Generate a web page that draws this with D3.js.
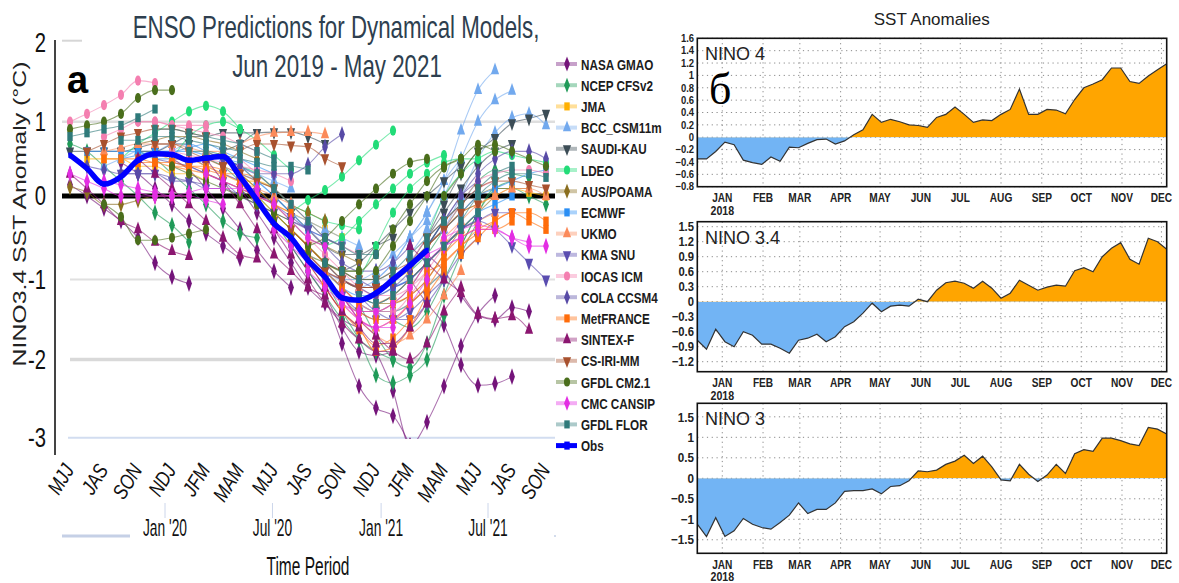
<!DOCTYPE html>
<html><head><meta charset="utf-8">
<script src="https://cdn.jsdelivr.net/npm/d3@7"></script>
<style>
body{margin:0;background:#fff;}
svg{display:block;font-family:"Liberation Sans",Arial,sans-serif;}
</style></head><body>
<svg id="chart" width="1179" height="583"></svg>
<script>
// ===================== Panel a: ENSO plume =====================
// Running 3-month seasons, MJJ 2019 ... SON 2021
const seasons = ["MJJ","JJA","JAS","ASO","SON","OND","NDJ","DJF","JFM","FMA","MAM","AMJ",
                 "MJJ","JJA","JAS","ASO","SON","OND","NDJ","DJF","JFM","FMA","MAM","AMJ",
                 "MJJ","JJA","JAS","ASO","SON"];
const yTickValues = [2, 1, 0, -1, -2, -3];

// Observed NINO3.4 (°C), one value per season from MJJ 2019
const obsValues = [0.55,0.37,0.16,0.26,0.48,0.57,0.56,0.48,0.51,0.53,0.26,-0.05,
                   -0.33,-0.5,-0.77,-0.97,-1.23,-1.26,-1.17,-1.0,-0.83,-0.65];

const modelNames = ["NASA GMAO","NCEP CFSv2","JMA","BCC_CSM11m","SAUDI-KAU","LDEO","AUS/POAMA",
  "ECMWF","UKMO","KMA SNU","IOCAS ICM","COLA CCSM4","MetFRANCE","SINTEX-F","CS-IRI-MM",
  "GFDL CM2.1","CMC CANSIP","GFDL FLOR"];

// Each forecast run: [first season index, value, value, ...]
const runsNasaGmao = [
  [0, 0.15,0.0,-0.15,-0.3,-0.5,-0.8,-0.97,-1.05],
  [3, 0.45,0.3,0.1,-0.1,-0.3,-0.45,-0.6,-0.75],
  [6, 0.5,0.35,0.1,-0.15,-0.4,-0.65,-0.9,-1.1],
  [10, 0.1,-0.2,-0.5,-0.8,-1.1,-1.3,-1.5,-1.6],
  [13, -0.6,-0.9,-1.2,-1.6,-1.9,-1.95,-1.9],
  [15, -1.2,-1.8,-2.34,-2.62,-2.72,-3.1],
  [18, -1.9,-2.4,-3.1,-2.8,-2.34,-1.83,-1.43,-1.2],
  [20, -1.0,-1.3,-1.57,-2.07,-2.33,-2.31,-2.22],
  [21, -0.7,-0.9,-1.2,-1.45,-1.5,-1.35,-1.4]];
const runsNcepCfsv2 = [
  [0, 0.7,0.6,0.4,0.2,0.0,-0.2,-0.35,-0.55],
  [4, 0.6,0.5,0.3,0.1,-0.1,-0.3,-0.45,-0.5],
  [8, 0.5,0.4,0.2,0.0,-0.2,-0.4,-0.6,-0.8],
  [12, -0.3,-0.6,-0.9,-1.2,-1.5,-1.75,-1.9,-2.0],
  [15, -1.0,-1.4,-1.75,-2.2,-2.3,-2.2,-2.0,-1.45],
  [17, -1.3,-1.7,-2.0,-2.1,-1.8,-1.2,-0.7,-0.3],
  [19, -1.5,-1.6,-1.4,-1.0,-0.6,-0.2,0.1,0.2],
  [20, -0.9,-0.7,-0.4,-0.1,0.2,0.35,0.3,0.25],
  [23, -0.6,-0.2,0.1,0.1,0.0,-0.1]];
const runsJma = [
  [1, 0.5,0.5,0.5,0.4,0.4,0.3,0.3,0.2],
  [5, 0.6,0.5,0.5,0.4,0.3,0.2,0.2,0.1],
  [9, 0.5,0.3,0.1,-0.1,-0.2,-0.3,-0.4,-0.5],
  [11, 0.0,-0.2,-0.4,-0.6,-0.8,-0.9,-1.0,-1.0],
  [13, -0.4,-0.6,-0.8,-1.0,-1.1,-1.1,-1.0,-0.9],
  [15, -0.9,-1.1,-1.3,-1.4,-1.4,-1.3,-1.1,-0.9],
  [17, -1.2,-1.3,-1.2,-1.0,-0.8,-0.6,-0.4,-0.2],
  [21, -0.6,-0.4,-0.2,-0.1,0.0,0.1,0.05,0.0]];
const runsBcc = [
  [2, 0.4,0.5,0.6,0.6,0.7,0.7,0.6,0.5],
  [6, 0.6,0.7,0.6,0.5,0.4,0.3,0.2,0.1],
  [10, 0.3,0.2,0.0,-0.2,-0.3,-0.4,-0.5,-0.6],
  [14, -0.7,-0.9,-1.0,-1.0,-0.9,-0.7,-0.5,-0.3],
  [16, -1.0,-1.1,-1.0,-0.8,-0.5,-0.2,0.2,0.5],
  [18, -1.0,-0.8,-0.5,-0.2,0.2,0.88,1.4,1.65],
  [20, -0.7,-0.4,0.0,0.5,1.0,1.27,1.39],
  [22, -0.4,0.0,0.5,0.85,1.05,1.1,0.95]];
const runsSaudiKau = [
  [0, 0.6,0.6,0.6,0.6,0.65,0.7,0.7,0.7],
  [4, 0.6,0.6,0.7,0.8,0.8,0.85,0.85,0.85],
  [8, 0.5,0.6,0.7,0.85,0.86,0.86,0.8,0.7],
  [12, 0.0,-0.2,-0.4,-0.6,-0.7,-0.7,-0.6,-0.5],
  [16, -0.9,-0.8,-0.6,-0.4,-0.2,0.0,0.2,0.4],
  [19, -1.0,-0.8,-0.5,-0.2,0.1,0.4,0.6,0.7],
  [21, -0.5,-0.1,0.3,0.6,0.78,0.98,1.04,1.1]];
const runsLdeo = [
  [3, 0.5,0.7,0.85,1.0,1.13,1.2,1.13,0.9],
  [6, 0.5,0.8,0.95,1.0,0.9,0.75,0.55,0.35],
  [10, 0.4,0.3,0.1,-0.1,-0.2,-0.3,-0.35,-0.4],
  [13, -0.2,-0.05,0.08,0.26,0.48,0.69,0.88],
  [15, -0.6,-0.5,-0.3,-0.1,0.1,0.3,0.45,0.55],
  [17, -1.0,-0.6,-0.2,0.1,0.3,0.45,0.5,0.5],
  [21, -0.5,0.0,0.3,0.5,0.6,0.55,0.5,0.45]];
const runsAusPoama = [
  [0, 0.12,0.05,-0.1,-0.1,-0.05,0.0,0.0,0.0],
  [4, 0.7,0.75,0.8,0.8,0.75,0.7,0.6,0.5],
  [8, 0.6,0.5,0.4,0.2,0.1,-0.1,-0.2,-0.3],
  [10, 0.3,0.1,-0.1,-0.3,-0.5,-0.6,-0.7,-0.8],
  [12, -0.2,-0.4,-0.6,-0.8,-1.0,-1.1,-1.1,-1.0],
  [16, -1.2,-1.4,-1.4,-1.3,-1.1,-0.8,-0.6,-0.4],
  [18, -1.3,-1.3,-1.2,-1.0,-0.7,-0.4,-0.2,0.0],
  [20, -0.9,-0.6,-0.4,-0.2,0.0,0.1,0.1,0.1]];
const runsEcmwf = [
  [1, 0.6,0.6,0.6,0.6,0.5,0.5,0.5,0.4],
  [3, 0.5,0.55,0.6,0.6,0.6,0.55,0.5,0.45],
  [5, 0.6,0.6,0.65,0.7,0.6,0.5,0.4,0.3],
  [9, 0.5,0.4,0.2,0.0,-0.2,-0.4,-0.5,-0.6],
  [13, -0.5,-0.7,-0.9,-1.1,-1.2,-1.2,-1.1,-1.0],
  [15, -0.9,-1.1,-1.3,-1.4,-1.4,-1.3,-1.1,-0.9],
  [17, -1.2,-1.3,-1.2,-1.0,-0.8,-0.6,-0.4,-0.3],
  [19, -1.1,-1.0,-0.8,-0.6,-0.4,-0.2,-0.1,0.0],
  [21, -0.6,-0.4,-0.2,0.0,0.1,0.2,0.3,0.35]];
const runsUkmo = [
  [2, 0.6,0.65,0.7,0.7,0.7,0.65,0.6,0.6],
  [6, 0.5,0.5,0.4,0.3,0.2,0.1,0.0,-0.1],
  [10, 0.7,0.8,0.85,0.86,0.86,0.83],
  [10, 0.3,0.0,-0.3,-0.5,-0.7,-0.9,-1.0,-1.1],
  [14, -0.8,-1.0,-1.3,-1.5,-1.6,-1.5,-1.3,-1.1],
  [16, -1.2,-1.5,-1.7,-1.8,-1.7,-1.5,-1.2,-0.9],
  [18, -1.3,-1.2,-1.0,-0.8,-0.6,-0.4,-0.3,-0.2],
  [22, -0.5,-0.3,-0.1,0.0,0.1,0.1,0.0]];
const runsKmaSnu = [
  [3, 0.3,0.3,0.3,0.2,0.2,0.1,0.1,0.0],
  [7, 0.4,0.3,0.2,0.0,-0.1,-0.2,-0.3,-0.4],
  [9, 0.3,0.2,0.05,-0.1,-0.25,-0.4,-0.5,-0.6],
  [11, -0.1,-0.3,-0.5,-0.7,-0.9,-1.0,-1.1,-1.1],
  [15, -1.0,-1.2,-1.4,-1.5,-1.5,-1.4,-1.2,-1.0],
  [17, -1.2,-1.4,-1.5,-1.5,-1.3,-1.0,-0.7,-0.5],
  [19, -1.1,-1.0,-0.8,-0.6,-0.4,-0.3,-0.2,-0.2],
  [23, -0.4,-0.3,-0.4,-0.6,-0.8,-1.0]];
const runsIocasIcm = [
  [0, 1.0,1.1,1.21,1.34,1.52,1.49],
  [2, 0.8,0.9,1.0,1.0,0.95,0.95,0.95],
  [4, 1.0,1.0,0.95,0.9,0.85,0.8,0.7,0.6],
  [6, 0.6,0.55,0.5,0.45,0.4,0.35,0.3,0.2],
  [10, 0.5,0.3,0.1,-0.1,-0.3,-0.5,-0.6,-0.7],
  [14, -0.5,-0.7,-0.9,-1.1,-1.2,-1.2,-1.1,-0.9],
  [16, -1.1,-1.3,-1.4,-1.4,-1.2,-0.9,-0.6,-0.3],
  [18, -1.2,-1.0,-0.8,-0.5,-0.3,-0.1,0.1,0.2],
  [22, -0.4,-0.1,0.2,0.3,0.35,0.35,0.3]];
const runsColaCcsm4 = [
  [1, 0.4,0.35,0.3,0.3,0.3,0.25,0.2,0.15],
  [5, 0.5,0.45,0.4,0.3,0.2,0.1,0.0,-0.1],
  [9, 0.5,0.4,0.3,0.3,0.3,0.42,0.66,0.83],
  [13, -0.3,-0.4,-0.6,-0.8,-0.9,-0.9,-0.8,-0.6],
  [15, -0.8,-1.0,-1.1,-1.2,-1.1,-0.9,-0.6,-0.3],
  [17, -1.0,-1.1,-1.0,-0.8,-0.6,-0.3,0.0,0.2],
  [21, -0.6,-0.3,0.0,0.3,0.5,0.6,0.6,0.5]];
const runsMetFrance = [
  [2, 0.5,0.5,0.5,0.45,0.45,0.4,0.4,0.35],
  [4, 0.45,0.45,0.4,0.4,0.35,0.3,0.3,0.25],
  [6, 0.4,0.35,0.3,0.2,0.1,0.0,-0.1,-0.2],
  [10, 0.2,-0.1,-0.3,-0.5,-0.7,-0.9,-1.1,-1.3],
  [13, -0.5,-0.8,-1.1,-1.4,-1.63,-1.83,-1.73,-1.5],
  [15, -1.1,-1.4,-1.6,-1.9,-1.85,-1.6,-1.2,-0.9],
  [17, -1.4,-1.5,-1.5,-1.3,-1.1,-0.8,-0.6,-0.45],
  [19, -1.3,-1.2,-1.0,-0.7,-0.5,-0.4,-0.4,-0.3],
  [21, -0.9,-0.8,-0.6,-0.4,-0.3,-0.2,-0.3,-0.4],
  [23, -0.7,-0.5,-0.3,-0.2,-0.2,-0.3]];
const runsSintexF = [
  [0, 0.3,0.1,-0.1,-0.3,-0.4,-0.55,-0.66,-0.72],
  [4, 0.5,0.3,0.1,-0.1,-0.3,-0.5,-0.7,-0.75],
  [8, 0.5,0.2,-0.1,-0.4,-0.7,-0.9,-1.1,-1.2],
  [12, -0.4,-0.7,-1.0,-1.3,-1.55,-1.75,-1.9,-1.9],
  [14, -0.8,-1.1,-1.4,-1.6,-1.8,-1.8,-1.6,-1.3],
  [16, -1.2,-1.5,-1.7,-1.9,-2.0,-1.8,-1.4,-1.1],
  [20, -0.6,-0.8,-1.0,-1.17,-1.44,-1.49,-1.46,-1.63]];
const runsCsIriMm = [
  [1, 0.6,0.7,0.8,0.85,0.9,0.9,0.85,0.8],
  [5, 0.7,0.7,0.6,0.5,0.4,0.3,0.2,0.1],
  [9, 0.4,0.6,0.7,0.7,0.68,0.66,0.51,0.4],
  [13, -0.4,-0.6,-0.8,-0.9,-1.0,-1.0,-0.9,-0.8],
  [15, -0.9,-1.0,-1.1,-1.1,-1.0,-0.8,-0.6,-0.4],
  [17, -1.1,-1.1,-1.0,-0.8,-0.6,-0.4,-0.2,-0.1],
  [21, -0.5,-0.3,-0.1,0.1,0.2,0.2,0.15,0.1]];
const runsGfdlCm21 = [
  [0, 0.9,0.95,1.0,1.1,1.3,1.4,1.4],
  [2, -0.1,-0.25,-0.53,-0.53,-0.5,-0.45,-0.4],
  [6, 0.4,0.3,0.2,0.1,0.0,-0.1,-0.2,-0.3],
  [10, 0.1,-0.1,-0.3,-0.5,-0.7,-0.8,-0.9,-0.9],
  [14, -0.6,-0.5,-0.3,-0.1,0.1,0.3,0.45,0.5],
  [16, -0.9,-0.9,-0.7,-0.4,-0.1,0.2,0.4,0.5],
  [18, -0.9,-0.6,-0.3,0.0,0.38,0.5,0.69,0.6],
  [22, 0.0,0.3,0.6,0.69,0.6,0.5,0.4]];
const runsCmcCansip = [
  [0, 0.3,0.2,0.1,0.0,0.0,0.0,0.0,0.0],
  [2, 0.2,0.15,0.1,0.05,0.0,0.0,-0.05,-0.1],
  [4, 0.05,0.0,0.0,0.05,0.1,0.1,0.1,0.1],
  [8, 0.3,0.2,0.1,0.0,-0.1,-0.3,-0.5,-0.6],
  [12, -0.4,-0.6,-0.8,-1.0,-1.2,-1.5,-1.6,-1.6],
  [14, -0.9,-1.1,-1.3,-1.5,-1.6,-1.5,-1.3,-1.0],
  [16, -1.3,-1.4,-1.4,-1.3,-1.1,-0.8,-0.6,-0.5],
  [20, -0.8,-0.7,-0.6,-0.5,-0.4,-0.4,-0.5,-0.55],
  [22, -0.5,-0.4,-0.35,-0.4,-0.5,-0.6,-0.6]];
const runsGfdlFlor = [
  [0, 0.8,0.85,0.9,0.95,1.05,1.16],
  [3, 0.75,0.75,0.8,0.8,0.75,0.7,0.65,0.6],
  [5, 0.9,0.9,0.85,0.8,0.75,0.7,0.6,0.5],
  [7, 0.6,0.6,0.55,0.5,0.45,0.4,0.4,0.35],
  [11, 0.3,0.1,-0.1,-0.3,-0.5,-0.6,-0.7,-0.7],
  [15, -0.8,-0.9,-1.0,-1.0,-0.9,-0.7,-0.5,-0.3],
  [17, -1.2,-1.3,-1.2,-1.0,-0.8,-0.6,-0.4,-0.2],
  [19, -1.0,-0.8,-0.6,-0.3,-0.1,0.1,0.3,0.4],
  [23, -0.3,0.0,0.2,0.3,0.3,0.25]];

const modelRuns = [runsNasaGmao, runsNcepCfsv2, runsJma, runsBcc, runsSaudiKau, runsLdeo,
  runsAusPoama, runsEcmwf, runsUkmo, runsKmaSnu, runsIocasIcm, runsColaCcsm4, runsMetFrance,
  runsSintexF, runsCsIriMm, runsGfdlCm21, runsCmcCansip, runsGfdlFlor];

// Series styling
const modelColors = ["#74147a","#1f9a58","#ffb000","#72a9ee","#3c4d56","#22dc78","#8a6e1f",
  "#2a8ef4","#fb8a5a","#5a4db0","#f47fb0","#574aa6","#ff6c0a","#8b1670","#a8512e",
  "#4a6e1c","#e32ee3","#2f7a7a"];
const modelShapes = ["diamond","diamond","square","triangle","triangle-down","circle","diamond",
  "square","triangle","triangle-down","circle","diamond","square","triangle","triangle-down",
  "circle","diamond","square"];

// ===================== Panel б: weekly SST anomalies, 2018 =====================
const firstWeek = new Date(2017, 11, 13);
const nino4Values = [-0.35,-0.35,-0.23,-0.08,-0.12,-0.37,-0.41,-0.44,-0.32,-0.39,-0.16,-0.17,-0.10,
  -0.04,-0.03,-0.11,-0.06,0.04,0.12,0.37,0.24,0.29,0.25,0.20,0.19,0.16,0.32,0.37,0.49,0.37,0.24,
  0.28,0.27,0.37,0.45,0.78,0.37,0.37,0.45,0.44,0.38,0.61,0.80,0.86,0.93,1.12,1.12,0.90,0.87,0.99,
  1.09,1.19];
const nino34Values = [-0.77,-0.95,-0.55,-0.8,-0.9,-0.6,-0.67,-0.85,-0.85,-0.93,-1.03,-0.77,-0.73,
  -0.65,-0.8,-0.7,-0.5,-0.4,-0.23,-0.03,-0.2,-0.09,-0.07,-0.09,0.05,0.0,0.23,0.38,0.41,0.37,0.27,
  0.41,0.27,0.07,0.17,0.43,0.33,0.23,0.29,0.33,0.31,0.62,0.68,0.6,0.9,1.07,1.18,0.85,0.75,1.27,
  1.2,1.05];
const nino3Values = [-1.12,-1.42,-0.96,-1.42,-1.28,-0.98,-1.12,-1.2,-1.24,-1.08,-0.9,-0.6,-0.86,
  -0.76,-0.76,-0.6,-0.32,-0.3,-0.3,-0.26,-0.38,-0.2,-0.18,-0.06,0.18,0.16,0.2,0.34,0.42,0.56,0.36,
  0.54,0.28,-0.04,-0.06,0.34,0.1,-0.08,0.08,0.34,0.12,0.6,0.7,0.66,0.98,0.98,0.92,0.84,0.8,1.24,
  1.2,1.08];
const monthLabels = ["JAN","FEB","MAR","APR","MAY","JUN","JUL","AUG","SEP","OCT","NOV","DEC"];
const nino4Ticks = [1.6,1.4,1.2,1,0.8,0.6,0.4,0.2,0,-0.2,-0.4,-0.6,-0.8];
const nino34Ticks = [1.5,1.2,0.9,0.6,0.3,0,-0.3,-0.6,-0.9,-1.2];
const nino3Ticks = [1.5,1,0.5,0,-0.5,-1,-1.5];

// ---------------------------------------------------------------
const svg = d3.select("#chart");
const defs = svg.append("defs");
const dark = "#1e1e1e";

// scaled text helper (horizontal squeeze keeps the tall, condensed look)
function sText(g, str, x, y, opt) {
  const t = g.append("text")
    .attr("transform", `translate(${x},${y})` + (opt.rotate ? ` rotate(${opt.rotate})` : "") + ` scale(${opt.sx || 1},${opt.sy || 1})`)
    .attr("text-anchor", opt.anchor || "start")
    .attr("font-size", opt.size)
    .attr("font-weight", opt.weight || "normal")
    .attr("font-style", opt.style || "normal")
    .attr("fill", opt.fill || dark)
    .text(str);
  if (opt.dy) t.attr("dy", opt.dy);
  return t;
}

// ---------- panel a scales ----------
const x = d3.scalePoint().domain(d3.range(seasons.length)).range([70, 546]);
const y = d3.scaleLinear().domain([-3, -2, -1, 0, 1, 2]).range([437.7, 359.5, 279.5, 196, 121.7, 42.7]);

const ga = svg.append("g");

// gridlines
ga.append("line").attr("x1", 62).attr("x2", 82).attr("y1", y(2) - 2).attr("y2", y(2) - 2)
  .attr("stroke", "#d6d6d6").attr("stroke-width", 2);
[[1, "#dedede", 2.5, 62], [-1, "#e0e0e0", 2, 70], [-2, "#d9d9d9", 3.5, 70], [-3, "#d2ddf0", 2, 68]]
  .forEach(([v, c, w, x0]) => ga.append("line").attr("x1", x0).attr("x2", 555)
    .attr("y1", y(v)).attr("y2", y(v)).attr("stroke", c).attr("stroke-width", w));

// y axis line
ga.append("line").attr("x1", 55).attr("x2", 55).attr("y1", 40).attr("y2", 455)
  .attr("stroke", "#444").attr("stroke-width", 2);

// y tick labels
yTickValues.forEach(v => sText(ga, String(v), 46, y(v) + 9, {size: 27, sx: 0.75, anchor: "end", fill: "#111"}));

// y title
sText(ga, "NINO3.4 SST Anomaly (°C)", 26, 214, {size: 18, rotate: -90, sx: 1.38, anchor: "middle", fill: "#222"});

// title
sText(ga, "ENSO Predictions for Dynamical Models,", 336, 38, {size: 31, sx: 0.72, anchor: "middle", fill: "#2e3f4f"});
sText(ga, "Jun 2019 - May 2021", 337, 77, {size: 31, sx: 0.72, anchor: "middle", fill: "#2e3f4f"});

// zero line
ga.append("line").attr("x1", 62).attr("x2", 555).attr("y1", y(0)).attr("y2", y(0))
  .attr("stroke", "#000").attr("stroke-width", 5);

// plume
defs.append("clipPath").attr("id", "plumeClip").append("rect")
  .attr("x", 56).attr("y", 30).attr("width", 500).attr("height", 409);
const plume = ga.append("g").attr("clip-path", "url(#plumeClip)");
const line = d3.line().x(d => x(d.c)).y(d => y(d.v)).curve(d3.curveMonotoneX);

const symbolTypes = {circle: d3.symbolCircle, diamond: d3.symbolDiamond, square: d3.symbolSquare,
  triangle: d3.symbolTriangle, "triangle-down": d3.symbolTriangle};
function marker(g, shape, cx, cy, size, color, sy) {
  g.append("path")
    .attr("d", d3.symbol().type(symbolTypes[shape]).size(size)())
    .attr("transform", `translate(${cx},${cy}) scale(0.9,${sy || 1.35})` + (shape === "triangle-down" ? " rotate(180)" : ""))
    .attr("fill", color);
}

const runPoints = run => run.slice(1).map((v, i) => ({c: run[0] + i, v}))
  .filter(p => p.c < seasons.length);

modelRuns.forEach((runs, m) => runs.forEach(run => {
  plume.append("path").datum(runPoints(run)).attr("d", line)
    .attr("fill", "none").attr("stroke", modelColors[m]).attr("stroke-width", 1.1).attr("stroke-opacity", 0.6);
}));
modelRuns.forEach((runs, m) => runs.forEach(run => {
  runPoints(run).forEach(p => marker(plume, modelShapes[m], x(p.c), y(p.v), 36, modelColors[m], 1.5));
}));

// observations
const obsPts = obsValues.map((v, i) => ({c: i, v}));
plume.append("path").datum(obsPts).attr("d", line).attr("fill", "none")
  .attr("stroke", "#0000ff").attr("stroke-width", 5.5).attr("stroke-linejoin", "round");
obsPts.forEach(p => marker(plume, "square", x(p.c), y(p.v), 14, "#0000ff"));

// season axis labels
seasons.forEach((s, i) => {
  if (i % 2) return;
  sText(ga, s, x(i) + 5, 470, {size: 21, rotate: -58, sx: 0.8, anchor: "end", style: "italic", fill: "#111"});
});

// navigator date axis
const tx = d3.scaleTime().domain([new Date(2020, 0, 1), new Date(2021, 6, 1)]).range([165, 488]);
const fmt = d3.timeFormat("%b '%y");
tx.ticks(d3.timeMonth.every(6)).forEach(d => {
  ga.append("line").attr("x1", tx(d)).attr("x2", tx(d)).attr("y1", 503).attr("y2", 518)
    .attr("stroke", "#ccd6eb").attr("stroke-width", 1);
  sText(ga, fmt(d), tx(d), 536, {size: 23, sx: 0.6, anchor: "middle", fill: "#111"});
});
ga.append("line").attr("x1", 62).attr("x2", 130).attr("y1", 536).attr("y2", 536)
  .attr("stroke", "#c5d0e6").attr("stroke-width", 3);
ga.append("circle").attr("cx", 555).attr("cy", 536).attr("r", 1).attr("fill", "#c5d0e6");
sText(ga, "Time Period", 308, 575, {size: 25, sx: 0.62, anchor: "middle", fill: "#111"});

// panel letter
ga.append("text").attr("x", 67).attr("y", 93).attr("font-size", 38).attr("font-weight", "bold")
  .attr("font-family", "'Liberation Sans',Arial,sans-serif").attr("fill", "#000").text("a");

// legend
const legend = svg.append("g");
const legY = i => 64 + 21.2 * i;
modelNames.forEach((n, i) => {
  const yy = legY(i);
  legend.append("line").attr("x1", 556).attr("x2", 577).attr("y1", yy).attr("y2", yy)
    .attr("stroke", modelColors[i]).attr("stroke-width", 4).attr("stroke-opacity", 0.4);
  marker(legend, modelShapes[i], 567, yy, 36, modelColors[i]);
  sText(legend, n, 581, yy + 5.5, {size: 15, sx: 0.78, weight: "bold", fill: "#1c1c1c"});
});
{
  const yy = legY(modelNames.length);
  legend.append("line").attr("x1", 556).attr("x2", 577).attr("y1", yy).attr("y2", yy)
    .attr("stroke", "#0000ff").attr("stroke-width", 5);
  marker(legend, "square", 567, yy, 36, "#0000ff");
  sText(legend, "Obs", 581, yy + 5.5, {size: 15, sx: 0.78, weight: "bold", fill: "#1c1c1c"});
}

// ===================== Panel б =====================
const gb = svg.append("g");
const X0 = 697.3, X1 = 1166.7;
const weekDates = nino4Values.map((_, i) => d3.timeDay.offset(firstWeek, 7 * i));
const xt = d3.scaleTime().domain([weekDates[0], weekDates[weekDates.length - 1]]).range([X0, X1]);
const monthStarts = monthLabels.map((_, i) => new Date(2018, i, 1));

sText(gb, "SST Anomalies", 931.7, 25, {size: 17, anchor: "middle", fill: "#222"});

const panels = [
  {name: "NINO 4", values: nino4Values, ticks: nino4Ticks, domain: [-0.8, 1.6], top: 38.3, bottom: 186.7, tickSize: 10.5},
  {name: "NINO 3.4", values: nino34Values, ticks: nino34Ticks, domain: [-1.4, 1.6], top: 221.7, bottom: 371.7, tickSize: 12.5},
  {name: "NINO 3", values: nino3Values, ticks: nino3Ticks, domain: [-1.83, 1.83], top: 403.3, bottom: 553.3, tickSize: 13}
];

panels.forEach((p, k) => {
  const yp = d3.scaleLinear().domain(p.domain).range([p.bottom, p.top]);
  const g = gb.append("g");
  const pts = p.values.map((v, i) => ({d: weekDates[i], v}));

  // dotted grid
  monthStarts.forEach(d => g.append("line").attr("x1", xt(d)).attr("x2", xt(d))
    .attr("y1", p.top).attr("y2", p.bottom).attr("stroke", "#8a8a8a").attr("stroke-width", 1)
    .attr("stroke-dasharray", "1.2,3.6"));
  p.ticks.forEach(v => g.append("line").attr("x1", X0).attr("x2", X1).attr("y1", yp(v)).attr("y2", yp(v))
    .attr("stroke", "#8a8a8a").attr("stroke-width", 1).attr("stroke-dasharray", "1.2,3.6"));

  // filled anomalies: warm above zero, cool below
  const area = d3.area().x(d => xt(d.d)).y0(yp(0)).y1(d => yp(d.v));
  const up = `clipUp${k}`, dn = `clipDn${k}`;
  defs.append("clipPath").attr("id", up).append("rect")
    .attr("x", X0).attr("y", p.top).attr("width", X1 - X0).attr("height", yp(0) - p.top);
  defs.append("clipPath").attr("id", dn).append("rect")
    .attr("x", X0).attr("y", yp(0)).attr("width", X1 - X0).attr("height", p.bottom - yp(0));
  g.append("path").datum(pts).attr("d", area).attr("fill", "#ffa500").attr("clip-path", `url(#${up})`);
  g.append("path").datum(pts).attr("d", area).attr("fill", "#72b4f4").attr("clip-path", `url(#${dn})`);
  g.append("path").datum(pts).attr("d", d3.line().x(d => xt(d.d)).y(d => yp(d.v)))
    .attr("fill", "none").attr("stroke", "#333").attr("stroke-width", 1.2);

  // frame
  g.append("rect").attr("x", X0).attr("y", p.top).attr("width", X1 - X0).attr("height", p.bottom - p.top)
    .attr("fill", "none").attr("stroke", "#111").attr("stroke-width", 1.6);

  // tick labels
  p.ticks.forEach(v => sText(g, String(v).replace("-", "\u2212"), 694, yp(v) + p.tickSize * 0.36,
    {size: p.tickSize, sx: 0.9, weight: "bold", anchor: "end", fill: "#222"}));
  monthLabels.forEach((m, i) => sText(g, m, xt(monthStarts[i]), p.bottom + 15.5,
    {size: 13, sx: 0.78, weight: "bold", anchor: "middle", fill: "#222"}));
  sText(g, "2018", xt(monthStarts[0]), p.bottom + 28, {size: 12.5, sx: 0.85, weight: "bold", anchor: "middle", fill: "#222"});

  // region name
  sText(g, p.name, 705, p.top + 22, {size: 18, fill: "#222"});
});

// panel letter
gb.append("text").attr("x", 709).attr("y", 104).attr("font-size", 44)
  .attr("font-family", "'Liberation Serif',serif").attr("fill", "#000")
  .attr("stroke", "#fff").attr("stroke-width", 3).attr("paint-order", "stroke").text("б");
</script>
</body></html>
